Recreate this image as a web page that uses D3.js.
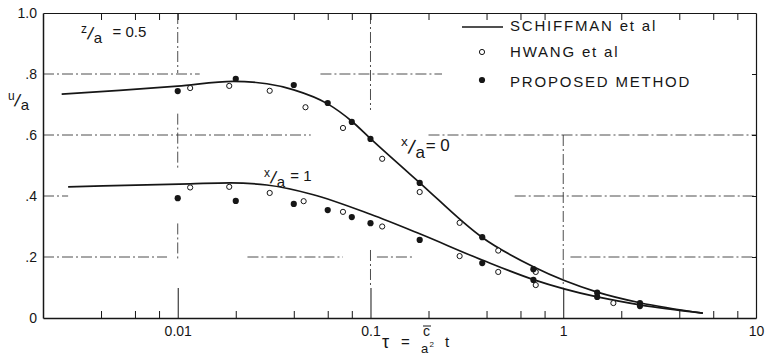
<!DOCTYPE html>
<html><head><meta charset="utf-8">
<script src="https://cdn.jsdelivr.net/npm/d3@7"></script>
<style>
body{margin:0;background:#fff}
svg{display:block;font-family:"Liberation Sans",Arial,sans-serif}
</style></head><body>
<svg id="c" width="768" height="356"></svg>
<script>
// ---- data ----
const xMajorTicks = [0.01, 0.1, 1, 10];
const xMajorLabels = ["0.01", "0.1", "1", "10"];
const xMinorTicks = [0.004, 0.006, 0.008, 0.02, 0.04, 0.06, 0.08, 0.2, 0.4, 0.6, 0.8, 2, 4, 6, 8];
const yTicks = [0, 0.2, 0.4, 0.6, 0.8, 1.0];
const yTickLabels = ["0", ".2", ".4", ".6", ".8", "1.0"];
const seriesNames = ["SCHIFFMAN et al", "HWANG et al", "PROPOSED METHOD"];

// Schiffman et al (solid curves): [tau, u/a]
const schiffmanX0 = [[0.0025,0.734],[0.005,0.746],[0.01,0.760],[0.0194,0.776],[0.029,0.768],[0.04,0.748],[0.06,0.702],[0.08,0.645],[0.1,0.588],[0.179,0.445],[0.38,0.264],[0.7,0.168],[1.5,0.085],[2.5,0.050],[5.3,0.016]];
const schiffmanX1 = [[0.0027,0.430],[0.0116,0.440],[0.0187,0.443],[0.029,0.436],[0.05,0.405],[0.1,0.340],[0.18,0.276],[0.38,0.190],[0.7,0.126],[1.5,0.069],[2.5,0.043],[5.3,0.016]];
// Hwang et al (open circles)
const hwangX0 = [[0.0116,0.754],[0.0185,0.761],[0.03,0.745],[0.046,0.691],[0.072,0.623],[0.115,0.522],[0.18,0.413],[0.29,0.312],[0.46,0.221],[0.72,0.151]];
const hwangX1 = [[0.0116,0.428],[0.0185,0.430],[0.03,0.410],[0.045,0.383],[0.072,0.348],[0.115,0.300],[0.29,0.203],[0.46,0.151],[0.72,0.108],[1.82,0.049]];
// Proposed method (filled circles)
const proposedX0 = [[0.01,0.744],[0.02,0.784],[0.04,0.764],[0.06,0.705],[0.08,0.643],[0.1,0.587],[0.18,0.443],[0.38,0.265],[0.7,0.160],[1.5,0.083],[2.5,0.049]];
const proposedX1 = [[0.01,0.393],[0.02,0.384],[0.04,0.374],[0.06,0.354],[0.08,0.331],[0.1,0.311],[0.18,0.256],[0.38,0.180],[0.7,0.125],[1.5,0.069],[2.5,0.039]];

// ---- layout ----
const svg = d3.select("#c");
const x = d3.scaleLog().domain([0.002, 10]).range([43, 756]);
const y = d3.scaleLinear().domain([0, 1]).range([318, 13]);
const ink = "#161616";

// broken dash-dot grid (segments in data units)
const hGrid = [[0.8, [[0.002,0.013],[0.055,0.235]]],
               [0.6, [[0.002,0.049],[0.2,10]]],
               [0.4, [[0.002,0.0027],[0.56,10]]],
               [0.2, [[0.002,0.0088],[0.023,0.072],[0.108,0.166],[1.09,10]]]];
const vGrid = [[0.01, [[1.0,0.803],[0.67,0.49],[0.31,0.19]]],
               [0.1,  [[1.0,0.682],[0.223,0.1]]],
               [1,    [[0.6,0.1]]]];
const gGrid = svg.append("g").attr("stroke", "#3a3a3a").attr("stroke-width", 0.9)
  .attr("stroke-dasharray", "11,3,2,3").attr("fill", "none");
hGrid.forEach(([v, segs]) => segs.forEach(s => gGrid.append("line")
  .attr("x1", x(s[0])).attr("x2", x(s[1])).attr("y1", y(v)).attr("y2", y(v))));
vGrid.forEach(([v, segs]) => segs.forEach(s => gGrid.append("line")
  .attr("x1", x(v)).attr("x2", x(v)).attr("y1", y(s[0])).attr("y2", y(s[1]))));

// axes
const fontTick = 14;
const bottomMajor = svg.append("g").attr("transform", `translate(0,${y(0)})`)
  .call(d3.axisBottom(x).tickValues(xMajorTicks).tickSize(-30).tickSizeOuter(0)
    .tickFormat((d, i) => xMajorLabels[i]));
bottomMajor.selectAll("text").attr("y", 8).attr("dy", "0.71em")
  .attr("font-size", fontTick).attr("fill", ink).attr("font-family", "Liberation Sans, Arial, sans-serif");
bottomMajor.selectAll("line").attr("stroke", ink).attr("stroke-width", 1);
bottomMajor.select(".domain").attr("stroke", ink).attr("stroke-width", 1.5);

const bottomMinor = svg.append("g").attr("transform", `translate(0,${y(0)})`)
  .call(d3.axisBottom(x).tickValues(xMinorTicks).tickSize(-7).tickSizeOuter(0).tickFormat(""));
bottomMinor.selectAll("line").attr("stroke", ink).attr("stroke-width", 1);
bottomMinor.select(".domain").remove();

const topAxis = svg.append("g").attr("transform", `translate(0,${y(1)})`)
  .call(d3.axisTop(x).tickValues(xMinorTicks.concat([0.01, 0.1])).tickSize(-7).tickSizeOuter(0).tickFormat(""));
topAxis.selectAll("line").attr("stroke", ink).attr("stroke-width", 1);
topAxis.select(".domain").attr("stroke", ink).attr("stroke-width", 1.2);

const leftAxis = svg.append("g").attr("transform", `translate(${x(0.002)},0)`)
  .call(d3.axisLeft(y).tickValues(yTicks).tickSize(0).tickSizeOuter(0)
    .tickFormat((d, i) => yTickLabels[i]));
leftAxis.selectAll("text").attr("x", -6).attr("font-size", fontTick).attr("fill", ink)
  .attr("font-family", "Liberation Sans, Arial, sans-serif");
leftAxis.select(".domain").attr("stroke", ink).attr("stroke-width", 1.5);

const rightAxis = svg.append("g").attr("transform", `translate(${x(10)},0)`)
  .call(d3.axisRight(y).tickValues([0.2, 0.4, 0.6, 0.8]).tickSize(-4).tickSizeOuter(0).tickFormat(""));
rightAxis.selectAll("line").attr("stroke", ink);
rightAxis.select(".domain").attr("stroke", ink).attr("stroke-width", 1.2);

// curves
const line = d3.line().x(d => x(d[0])).y(d => y(d[1])).curve(d3.curveMonotoneX);
[schiffmanX0, schiffmanX1].forEach(s => svg.append("path").datum(s)
  .attr("d", line).attr("fill", "none").attr("stroke", ink).attr("stroke-width", 1.7));

// points
[hwangX0, hwangX1].forEach(s => svg.append("g").selectAll("circle").data(s).join("circle")
  .attr("cx", d => x(d[0])).attr("cy", d => y(d[1])).attr("r", 2.6)
  .attr("fill", "#fff").attr("stroke", ink).attr("stroke-width", 1));
[proposedX0, proposedX1].forEach(s => svg.append("g").selectAll("circle").data(s).join("circle")
  .attr("cx", d => x(d[0])).attr("cy", d => y(d[1])).attr("r", 3.1).attr("fill", ink));

// legend
const lg = svg.append("g");
lg.append("line").attr("x1", 462).attr("x2", 503).attr("y1", 27).attr("y2", 27)
  .attr("stroke", ink).attr("stroke-width", 1.7);
lg.append("circle").attr("cx", 482).attr("cy", 52).attr("r", 2.6).attr("fill", "#fff")
  .attr("stroke", ink).attr("stroke-width", 1);
lg.append("circle").attr("cx", 482).attr("cy", 80).attr("r", 3.1).attr("fill", ink);
const legendY = [31, 57, 87];
seriesNames.forEach((n, i) => lg.append("text").attr("x", 510).attr("y", legendY[i])
  .attr("font-size", 15).attr("letter-spacing", 1.8).attr("fill", ink).text(n));

// fraction-style annotations (numerator raised, slash, denominator lowered)
function frac(px, py, num, den, rest, fs, restDx) {
  const g = svg.append("g").attr("fill", ink);
  g.append("text").attr("x", px).attr("y", py - fs * 0.3).attr("font-size", fs * 0.8).text(num);
  g.append("text").attr("x", px + fs * 0.42).attr("y", py + fs * 0.2)
    .attr("font-size", fs * 1.2).attr("transform", `rotate(12,${px + fs * 0.7},${py})`).text("/");
  g.append("text").attr("x", px + fs * 0.85).attr("y", py + fs * 0.4).attr("font-size", fs).text(den);
  if (rest) g.append("text").attr("x", px + fs * (restDx || 1.7)).attr("y", py).attr("font-size", fs).text(rest);
}
frac(81, 37, "z", "a", "= 0.5", 15, 2.1);
frac(401, 151, "x", "a", "= 0", 17, 1.45);
frac(264, 181, "x", "a", "= 1", 15, 1.75);
frac(8, 104, "u", "a", null, 15);

// x-axis title: tau = c-bar / a^2 t
const tt = svg.append("g").attr("fill", ink);
tt.append("text").attr("x", 382).attr("y", 348).attr("font-size", 18).text("τ");
tt.append("text").attr("x", 401).attr("y", 347).attr("font-size", 15).text("=");
tt.append("text").attr("x", 423).attr("y", 336).attr("font-size", 14).text("c");
tt.append("text").attr("x", 421).attr("y", 353).attr("font-size", 13).text("a");
tt.append("text").attr("x", 429.5).attr("y", 347).attr("font-size", 8).text("2");
tt.append("text").attr("x", 445).attr("y", 347).attr("font-size", 15).text("t");
svg.append("line").attr("x1", 423).attr("x2", 431).attr("y1", 326).attr("y2", 326)
  .attr("stroke", ink).attr("stroke-width", 1);
</script></body></html>
